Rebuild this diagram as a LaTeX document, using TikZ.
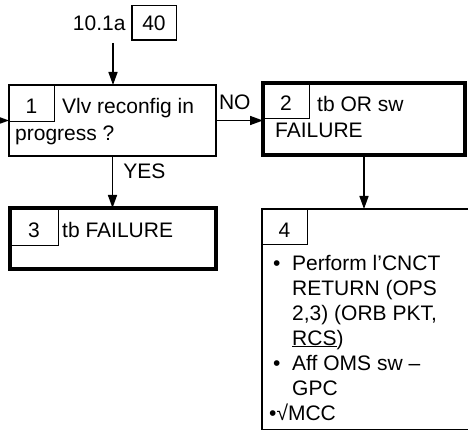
\documentclass[tikz,border=0pt]{standalone}
\usepackage{fontspec}
\setmainfont{Liberation Sans}
\usetikzlibrary{arrows.meta, positioning}

\begin{document}
\begin{tikzpicture}[
  x=1pt, y=-1pt,
  font=\fontsize{21}{25}\selectfont,
  blk/.style={draw, line width=2pt, outer sep=0pt, inner sep=0pt},
  blkb/.style={blk, line width=4pt},
  cell/.style={draw, line width=1pt, outer sep=0pt, inner sep=0pt,
               anchor=north west, text height=20pt, text depth=0pt},
  txt/.style={anchor=base west, inner sep=0pt},
  lab/.style={inner sep=0pt},
  arr/.style={-{Triangle[length=13pt, width=9pt]}, line width=1.5pt},
]
\useasboundingbox (0,0) rectangle (468,430);

% ---- Entry reference -------------------------------------------------------
\node[blk, line width=1.5pt, minimum width=44.5pt, minimum height=34.5pt]
  (b40) at (154,23) {40};
\node[lab, left=6pt of b40] (ref) {10.1a};
\coordinate (in1) at (113,43);
\coordinate (in2) at (-12,120.5);

% ---- Step boxes ------------------------------------------------------------
\node[blk, minimum width=207pt, minimum height=71pt] (b1) at (112.5,120.5) {};
\node[cell, minimum width=45pt, minimum height=37pt] (c1) at (b1.north west) {1};
\node[txt] (t1a) at (62,114) {Vlv reconfig in};
\node[txt] (t1b) at (15,141) {progress ?};

\node[blkb, minimum width=202pt, minimum height=72pt] (b2) at (364,119) {};
\node[cell, minimum width=46pt, minimum height=36pt] (c2) at (b2.north west) {2};
\node[txt] (t2a) at (317,112) {tb OR sw};
\node[txt] (t2b) at (275,138) {FAILURE};

\node[blkb, minimum width=206pt, minimum height=61pt] (b3) at (113,238.5) {};
\node[cell, minimum width=48pt, minimum height=38pt] (c3) at (b3.north west) {3};
\node[txt] (t3) at (62,238) {tb FAILURE};

\node[blk, line width=1.5pt, minimum width=210pt, minimum height=220.5pt]
  (b4) at (367,319.25) {};
\node[cell, minimum width=45pt, minimum height=36pt] (c4) at (b4.north west) {4};

% ---- Box 4 items -----------------------------------------------------------
\foreach \n/\y in {1/270, 2/370}
  \node[txt] (bu\n) at (273,\y) {•};
\foreach \n/\y/\t in {1/270/{Perform l’CNCT}, 2/295/{RETURN (OPS},
                      3/320/{2,3) (ORB PKT,}, 4/345/{\underline{RCS})},
                      5/370/{Aff OMS sw –}, 6/395/{GPC}}
  \node[txt] (l\n) at (292,\y) {\t};
\node[txt] (l7) at (269,420) {•√MCC};

% ---- Connectors ------------------------------------------------------------
\draw[arr] (in1) -- (in1 |- b1.north);
\draw[arr] (in2) -- (b1.west);
\draw[arr] (b1.east) -- node[lab, pos=0.4, above=10pt] (no) {NO} (b1.east -| b2.west);
\draw[arr] (b1.south) -- node[lab, pos=0.3, right=10pt] (yes) {YES} (b1.south |- b3.north);
\draw[arr] (b2.south) -- (b2.south |- b4.north);

\end{tikzpicture}
\end{document}
